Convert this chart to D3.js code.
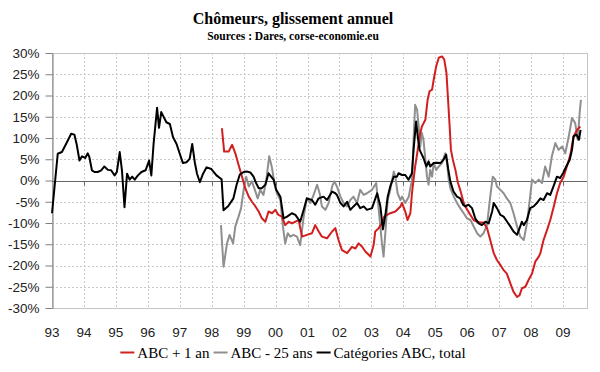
<!DOCTYPE html>
<html><head><meta charset="utf-8">
<script src="https://cdn.jsdelivr.net/npm/d3@7"></script>
<style>body{margin:0;background:#fff}svg{display:block}</style>
</head><body>
<script>
const title = "Chômeurs, glissement annuel";
const subtitle = "Sources : Dares, corse-economie.eu";
const yearTicks = [1993,1994,1995,1996,1997,1998,1999,2000,2001,2002,2003,2004,2005,2006,2007,2008,2009];
const yearLabels = ["93","94","95","96","97","98","99","00","01","02","03","04","05","06","07","08","09"];
const yTicks = [-30,-25,-20,-15,-10,-5,0,5,10,15,20,25,30];
const seriesNames = ["ABC + 1 an","ABC - 25 ans","Catégories ABC, total"];
const seriesColors = ["#d11f1f","#8f8f8f","#000000"];

// [decimal year, % change]
const totalABC = [
[1993.00,-7.7],[1993.18,6.3],[1993.31,6.7],[1993.44,8.6],[1993.60,11.0],[1993.70,10.8],[1993.77,8.6],[1993.86,4.7],[1993.94,5.7],
[1994.04,5.3],[1994.12,6.4],[1994.17,5.5],[1994.25,2.4],[1994.33,2.0],[1994.43,2.0],[1994.54,2.4],[1994.64,3.3],[1994.75,2.5],[1994.85,2.4],[1994.96,1.2],
[1995.03,2.0],[1995.12,6.7],[1995.19,2.4],[1995.27,-6.3],[1995.35,1.6],[1995.43,0.2],[1995.51,0.9],[1995.59,0.2],[1995.69,1.2],[1995.80,2.0],[1995.93,2.4],
[1996.04,4.7],[1996.11,1.2],[1996.18,8.6],[1996.29,17.1],[1996.35,12.4],[1996.42,16.1],[1996.50,14.9],[1996.58,13.7],[1996.69,13.3],[1996.79,10.2],[1996.90,8.6],
[1997.00,6.3],[1997.10,4.1],[1997.21,4.3],[1997.31,5.1],[1997.39,8.6],[1997.47,4.3],[1997.54,1.6],[1997.63,-0.4],[1997.73,1.6],[1997.84,3.1],[1997.99,2.7],
[1998.15,1.2],[1998.31,0.3],[1998.37,-7.0],[1998.52,-6.0],[1998.68,-4.2],[1998.78,-1.0],[1998.88,1.4],[1999.00,2.0],[1999.10,2.1],[1999.21,1.9],[1999.31,0.9],
[1999.39,-0.6],[1999.47,-1.8],[1999.57,-1.8],[1999.68,-1.0],[1999.78,1.7],[1999.86,0.9],[1999.94,0.2],[2000.02,-2.2],[2000.15,-3.8],[2000.25,-8.9],[2000.36,-8.5],
[2000.51,-7.7],[2000.62,-8.1],[2000.77,-9.7],[2000.88,-6.9],[2000.98,-4.2],[2001.14,-4.6],[2001.24,-5.7],[2001.35,-4.2],[2001.50,-3.8],[2001.61,-4.6],[2001.77,-2.6],
[2001.87,-3.0],[2001.92,-3.4],[2002.03,-5.3],[2002.13,-6.1],[2002.24,-5.0],[2002.34,-6.9],[2002.44,-6.1],[2002.55,-5.3],[2002.65,-6.5],[2002.76,-6.1],[2002.86,-6.9],
[2003.02,-6.5],[2003.18,-3.0],[2003.28,-6.0],[2003.36,-11.5],[2003.44,-8.0],[2003.51,-3.8],[2003.59,-1.4],[2003.70,0.9],[2003.80,0.9],[2003.85,1.7],[2003.96,1.3],
[2004.06,1.3],[2004.16,0.2],[2004.27,1.7],[2004.32,7.2],[2004.40,13.9],[2004.45,10.4],[2004.51,7.2],[2004.58,6.1],[2004.63,5.3],[2004.72,3.3],[2004.79,4.5],
[2004.84,3.3],[2004.95,4.1],[2005.05,4.2],[2005.16,4.1],[2005.26,4.9],[2005.34,6.1],[2005.40,2.9],[2005.47,-0.2],[2005.57,-2.6],[2005.68,-3.8],[2005.78,-4.2],
[2005.87,-5.7],[2005.94,-6.1],[2006.04,-5.7],[2006.15,-6.5],[2006.25,-8.9],[2006.36,-10.1],[2006.46,-10.5],[2006.57,-9.7],[2006.67,-10.1],[2006.78,-7.3],[2006.83,-5.3],
[2006.93,-6.5],[2007.04,-8.1],[2007.14,-8.5],[2007.25,-9.7],[2007.35,-10.8],[2007.45,-12.0],[2007.56,-12.8],[2007.64,-11.2],[2007.71,-9.7],[2007.77,-10.5],[2007.87,-9.3],
[2007.97,-6.5],[2008.08,-6.1],[2008.18,-5.3],[2008.29,-4.2],[2008.39,-4.6],[2008.50,-3.0],[2008.60,-3.4],[2008.70,-1.4],[2008.81,0.9],[2008.91,0.6],[2009.00,1.7],
[2009.10,3.3],[2009.21,4.9],[2009.28,7.2],[2009.33,10.4],[2009.42,10.8],[2009.50,9.6],[2009.55,11.9]
];

const abcPlus1 = [
[1998.32,12.3],[1998.39,6.8],[1998.53,6.8],[1998.64,8.4],[1998.74,6.4],[1998.84,3.7],[1998.95,0.9],[1999.05,-1.8],[1999.16,-3.8],[1999.26,-5.0],[1999.37,-6.1],
[1999.47,-7.3],[1999.57,-8.9],[1999.68,-9.7],[1999.78,-7.3],[1999.89,-7.7],[1999.99,-6.9],[2000.09,-8.1],[2000.20,-8.5],[2000.30,-10.5],[2000.41,-9.7],[2000.51,-10.1],
[2000.62,-9.7],[2000.72,-9.3],[2000.83,-13.2],[2000.98,-12.8],[2001.14,-12.4],[2001.24,-10.5],[2001.35,-12.0],[2001.45,-13.2],[2001.61,-13.6],[2001.77,-12.0],
[2001.87,-11.2],[2001.97,-14.0],[2002.08,-16.4],[2002.24,-17.1],[2002.39,-15.6],[2002.50,-16.0],[2002.60,-14.8],[2002.71,-15.6],[2002.81,-16.7],[2002.97,-17.9],
[2003.07,-15.2],[2003.12,-12.0],[2003.23,-11.2],[2003.33,-10.0],[2003.40,-8.5],[2003.59,-7.7],[2003.75,-7.3],[2003.91,-6.1],[2003.96,-5.3],[2004.06,-7.3],
[2004.13,-9.3],[2004.22,-7.7],[2004.27,-3.0],[2004.32,0.2],[2004.37,3.3],[2004.45,7.2],[2004.51,10.4],[2004.58,12.7],[2004.69,14.3],[2004.76,19.0],[2004.82,21.0],
[2004.90,21.4],[2004.95,23.7],[2005.03,26.9],[2005.11,28.9],[2005.21,29.2],[2005.28,28.5],[2005.35,25.3],[2005.40,19.0],[2005.45,12.7],[2005.49,7.2],[2005.55,4.9],
[2005.63,2.5],[2005.71,-0.6],[2005.78,-2.2],[2005.89,-5.3],[2005.97,-6.5],[2006.10,-8.1],[2006.20,-9.3],[2006.31,-9.7],[2006.41,-9.9],[2006.51,-9.9],[2006.62,-11.2],
[2006.72,-14.0],[2006.83,-17.1],[2006.93,-18.7],[2007.04,-19.9],[2007.14,-21.1],[2007.24,-21.9],[2007.35,-24.2],[2007.45,-26.2],[2007.56,-27.4],[2007.64,-27.0],
[2007.71,-25.4],[2007.82,-25.0],[2007.92,-23.4],[2008.03,-21.9],[2008.13,-19.1],[2008.24,-17.9],[2008.29,-17.1],[2008.39,-14.0],[2008.50,-11.6],[2008.60,-9.3],
[2008.71,-6.1],[2008.81,-3.0],[2008.91,-0.6],[2009.02,0.9],[2009.12,3.3],[2009.23,6.1],[2009.33,10.4],[2009.44,11.9],[2009.54,12.7]
];

const abcUnder25 = [
[1998.29,-10.5],[1998.37,-20.3],[1998.48,-14.8],[1998.56,-12.8],[1998.67,-14.8],[1998.74,-10.8],[1998.84,-8.5],[1998.92,-6.5],[1999.00,-2.2],[1999.08,0.9],
[1999.16,-1.4],[1999.26,-0.2],[1999.37,-2.6],[1999.44,-4.2],[1999.52,-2.2],[1999.62,-3.4],[1999.71,0.2],[1999.80,5.7],[1999.89,2.9],[1999.96,-0.6],[2000.04,-3.0],
[2000.15,-4.6],[2000.23,-10.8],[2000.30,-14.8],[2000.38,-12.4],[2000.46,-13.2],[2000.56,-12.8],[2000.67,-13.2],[2000.77,-15.2],[2000.88,-8.5],[2000.98,-4.2],
[2001.09,-5.3],[2001.19,-3.4],[2001.30,-1.0],[2001.38,-3.0],[2001.45,-6.1],[2001.56,-6.9],[2001.66,-5.3],[2001.77,-1.4],[2001.84,-0.2],[2001.92,-1.4],[2002.03,-3.8],
[2002.13,-5.3],[2002.24,-6.1],[2002.34,-4.6],[2002.44,-3.8],[2002.55,-5.3],[2002.65,-2.2],[2002.76,-3.4],[2002.86,-3.0],[2003.02,-2.2],[2003.15,-0.6],[2003.23,-6.9],
[2003.33,-14.8],[2003.38,-17.9],[2003.45,-11.0],[2003.51,-4.6],[2003.59,-2.2],[2003.70,2.1],[2003.75,0.9],[2003.82,-3.0],[2003.91,-4.6],[2003.96,-3.8],[2004.06,-5.3],
[2004.17,-3.8],[2004.27,0.2],[2004.32,9.6],[2004.37,17.8],[2004.43,16.7],[2004.48,12.7],[2004.53,8.0],[2004.58,11.2],[2004.63,9.6],[2004.69,4.9],[2004.74,0.9],
[2004.79,-1.0],[2004.84,2.5],[2004.90,0.9],[2004.95,4.1],[2005.03,2.5],[2005.11,3.3],[2005.21,4.1],[2005.31,6.4],[2005.37,4.1],[2005.42,0.2],[2005.47,-1.8],
[2005.58,-3.8],[2005.68,-5.3],[2005.78,-6.5],[2005.89,-7.7],[2005.99,-8.9],[2006.10,-9.3],[2006.20,-10.8],[2006.31,-12.4],[2006.41,-13.2],[2006.51,-12.4],[2006.62,-10.5],
[2006.72,-3.8],[2006.80,0.9],[2006.88,0.2],[2006.93,-1.4],[2007.04,-2.2],[2007.14,-3.0],[2007.24,-4.2],[2007.35,-5.3],[2007.45,-7.7],[2007.56,-10.8],[2007.66,-13.2],
[2007.77,-14.0],[2007.87,-10.1],[2007.97,-3.8],[2008.03,0.2],[2008.13,-0.6],[2008.24,0.2],[2008.34,-0.6],[2008.44,3.3],[2008.55,0.9],[2008.65,5.7],[2008.76,8.8],
[2008.86,7.2],[2008.97,8.0],[2009.07,6.4],[2009.18,10.4],[2009.28,14.7],[2009.38,13.5],[2009.46,9.6],[2009.52,15.9],[2009.56,19.0]
];

const W = 600, H = 372;
const pL = 52, pR = 587, pT = 53, pB = 308;
const svg = d3.select("body").append("svg").attr("width", W).attr("height", H);
svg.append("rect").attr("width", W).attr("height", H).attr("fill", "#fff");

const x = d3.scaleLinear().domain([1993, 2009.75]).range([pL, pR]);
const y = d3.scaleLinear().domain([-30, 30]).range([pB, pT]);

// plot border
svg.append("rect").attr("x", pL + 0.5).attr("y", pT + 0.5)
  .attr("width", pR - pL).attr("height", pB - pT)
  .attr("fill", "none").attr("stroke", "#c4c4c4").attr("stroke-width", 1);

// horizontal gridlines
svg.append("g").selectAll("line").data(yTicks.filter(d => d !== 0 && d !== 30 && d !== -30)).join("line")
  .attr("x1", pL).attr("x2", pR)
  .attr("y1", d => Math.round(y(d)) + 0.5).attr("y2", d => Math.round(y(d)) + 0.5)
  .attr("stroke", "#c8c8c8").attr("stroke-dasharray", "2,2");
// vertical gridlines
svg.append("g").selectAll("line").data(yearTicks.slice(1)).join("line")
  .attr("x1", d => Math.round(x(d)) + 0.5).attr("x2", d => Math.round(x(d)) + 0.5)
  .attr("y1", pT).attr("y2", pB)
  .attr("stroke", "#c8c8c8").attr("stroke-dasharray", "2,2");

// y axis
const yAxis = svg.append("g").attr("transform", `translate(${pL + 0.5},0)`)
  .call(d3.axisLeft(y).tickValues(yTicks).tickFormat(d => d + "%").tickSize(7).tickPadding(6).tickSizeOuter(0));
yAxis.select(".domain").attr("stroke", "#7f7f7f");
yAxis.selectAll(".tick line").attr("stroke", "#7f7f7f");
yAxis.selectAll("text").attr("font-family", "Liberation Sans, Arial, sans-serif").attr("font-size", 13.5).attr("fill", "#222");

// zero line (category axis)
const zeroY = Math.round(y(0)) + 0.5;
svg.append("line").attr("x1", pL).attr("x2", pR).attr("y1", zeroY).attr("y2", zeroY)
  .attr("stroke", "#666").attr("stroke-width", 1);
svg.append("g").selectAll("line").data(yearTicks.slice(1)).join("line")
  .attr("x1", d => Math.round(x(d)) + 0.5).attr("x2", d => Math.round(x(d)) + 0.5)
  .attr("y1", zeroY).attr("y2", zeroY + 4).attr("stroke", "#666");

// x labels
svg.append("g").selectAll("text").data(yearTicks).join("text")
  .attr("x", d => x(d)).attr("y", 337)
  .attr("text-anchor", "middle")
  .attr("font-family", "Liberation Sans, Arial, sans-serif").attr("font-size", 13.5).attr("fill", "#222")
  .text((d, i) => yearLabels[i]);

// lines
const line = d3.line().x(d => x(d[0])).y(d => y(d[1]));
const seriesData = [abcPlus1, abcUnder25, totalABC];
const drawOrder = [1, 0, 2];
drawOrder.forEach(i => {
  svg.append("path").datum(seriesData[i]).attr("d", line)
    .attr("fill", "none").attr("stroke", seriesColors[i]).attr("stroke-width", 2)
    .attr("stroke-linejoin", "round");
});

// title
svg.append("text").attr("x", 293).attr("y", 24).attr("text-anchor", "middle")
  .attr("font-family", "Liberation Serif, Times New Roman, serif").attr("font-weight", "bold")
  .attr("font-size", 16).attr("fill", "#000").text(title);
svg.append("text").attr("x", 293).attr("y", 40).attr("text-anchor", "middle")
  .attr("font-family", "Liberation Serif, Times New Roman, serif").attr("font-weight", "bold")
  .attr("font-size", 11.5).attr("fill", "#000").text(subtitle);

// legend
const lg = svg.append("g");
let cx = 0;
seriesNames.forEach((name, i) => {
  const g = lg.append("g");
  g.append("line").attr("x1", cx).attr("x2", cx + 14).attr("y1", 0).attr("y2", 0)
    .attr("stroke", seriesColors[i]).attr("stroke-width", 2);
  const t = g.append("text").attr("x", cx + 17).attr("y", 5)
    .attr("font-family", "Liberation Serif, Times New Roman, serif").attr("font-size", 15).attr("fill", "#000")
    .text(name);
  cx += 17 + t.node().getComputedTextLength() + 4;
});
const lw = cx - 4;
lg.attr("transform", `translate(${293 - lw / 2},352.5)`);
</script>
</body></html>
